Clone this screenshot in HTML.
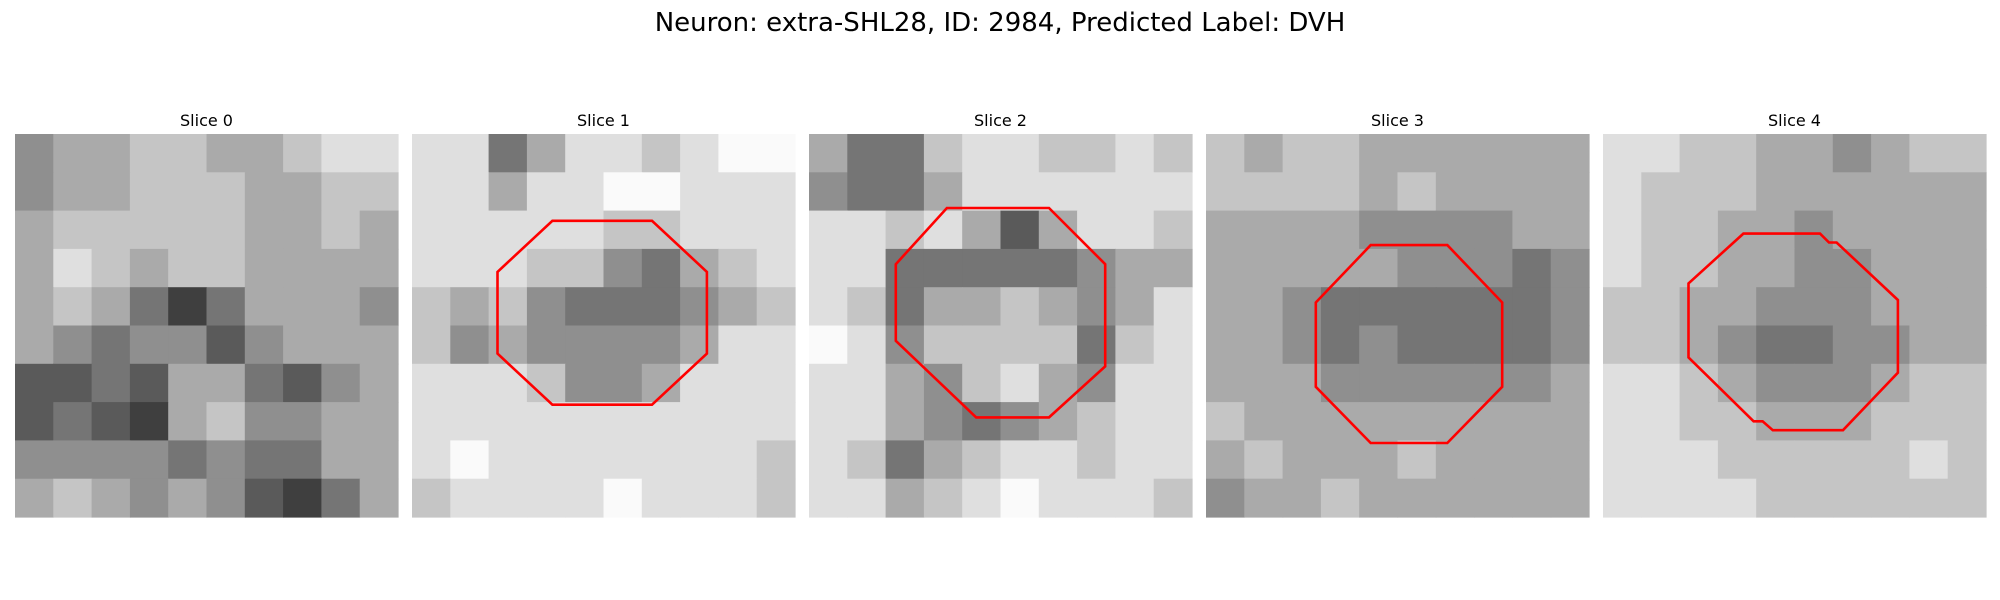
<!DOCTYPE html>
<html><head><meta charset="utf-8"><style>
html,body{margin:0;padding:0;background:#fff;}
svg{display:block;font-family:"DejaVu Sans","Liberation Sans",sans-serif;}
</style></head><body>
<svg id="fig" width="2000" height="600" viewBox="0 0 2000 600" xmlns="http://www.w3.org/2000/svg">
<text x="1000" y="31" text-anchor="middle" font-size="26" fill="#000">Neuron: extra-SHL28, ID: 2984, Predicted Label: DVH</text>
</svg>
<script>
const panelTitles = ["Slice 0","Slice 1","Slice 2","Slice 3","Slice 4"];
const grid0 = ["5667766788","5667776677","6777776676","6876776666","6764246665","6545535666","3343664356","3432675566","5555454466","6765653246"];
const grid1 = ["8846887899","8868899888","8888877888","8887754678","7675444567","7565555688","8887556888","8888888888","8988888887","7888898887"];
const grid2 = ["6447887787","5446888888","8878636887","8844444566","8746676568","9857777478","8865786588","8865456788","8746788788","8867898887"];
const grid3 = ["7677666666","7777676666","6666555566","6666655545","6654444445","6654544445","6665555556","7666666666","6766676666","5667666666"];
const grid4 = ["8877665677","8777666666","8776656666","8776655666","7766555666","7765445566","8876555677","8877666777","8887777787","8888777777"];
const grids = [grid0, grid1, grid2, grid3, grid4];
// octagon vertices in cell units (30x30 image grid), null = none
const poly1 = [[11,6.8],[18.8,6.8],[23.1,10.8],[23.1,17.2],[18.8,21.2],[11,21.2],[6.7,17.2],[6.7,10.8]];
const poly2 = [[10.8,5.8],[18.8,5.8],[23.2,10.2],[23.2,18.2],[18.8,22.2],[13.1,22.2],[6.8,16.2],[6.8,10.2]];
const poly3 = [[12.9,8.7],[18.9,8.7],[23.2,13.2],[23.2,19.8],[18.9,24.2],[12.9,24.2],[8.6,19.8],[8.6,13.2]];
const poly4 = [[11,7.8],[17,7.8],[17.7,8.5],[18.3,8.5],[23.1,13],[23.1,18.7],[18.8,23.2],[13.3,23.2],[12.5,22.5],[11.8,22.5],[6.7,17.5],[6.7,11.7]];
const polys = [null, poly1, poly2, poly3, poly4];

const svg = document.getElementById('fig');
const NS = 'http://www.w3.org/2000/svg';
const panelX = [15, 412, 809, 1206, 1603];
const panelY = 134, panelSize = 383;
function gray(d){ const v = Math.round(d/9*240+10); return `rgb(${v},${v},${v})`; }

grids.forEach((g, p) => {
  const grp = document.createElementNS(NS,'g');
  
  
  svg.appendChild(grp);
  const t = document.createElementNS(NS,'text');
  t.setAttribute('x', panelX[p] + panelSize/2);
  t.setAttribute('y', 126);
  t.setAttribute('text-anchor','middle');
  t.setAttribute('font-size','16');
  t.textContent = panelTitles[p];
  
  
  grp.appendChild(t);
  const rows = g.length, cols = g[0].length;
  const cw = panelSize/cols, ch = panelSize/rows;
  for (let r=0;r<rows;r++) for (let c=0;c<cols;c++){
    const rect = document.createElementNS(NS,'rect');
    rect.setAttribute('x', (panelX[p] + c*cw).toFixed(2));
    rect.setAttribute('y', (panelY + r*ch).toFixed(2));
    rect.setAttribute('width', (cw+0.6).toFixed(2));
    rect.setAttribute('height', (ch+0.6).toFixed(2));
    rect.setAttribute('fill', gray(+g[r][c]));
    
    
    grp.appendChild(rect);
  }
  const poly = polys[p];
  if (poly) {
    const s = panelSize/30;
    const pl = document.createElementNS(NS,'polygon');
    pl.setAttribute('points', poly.map(v => (panelX[p]+v[0]*s).toFixed(1)+','+(panelY+v[1]*s).toFixed(1)).join(' '));
    pl.setAttribute('fill','none');
    pl.setAttribute('stroke','#ff0000');
    pl.setAttribute('stroke-width','2.6');
    
    
    grp.appendChild(pl);
  }
});
</script>
</body></html>
